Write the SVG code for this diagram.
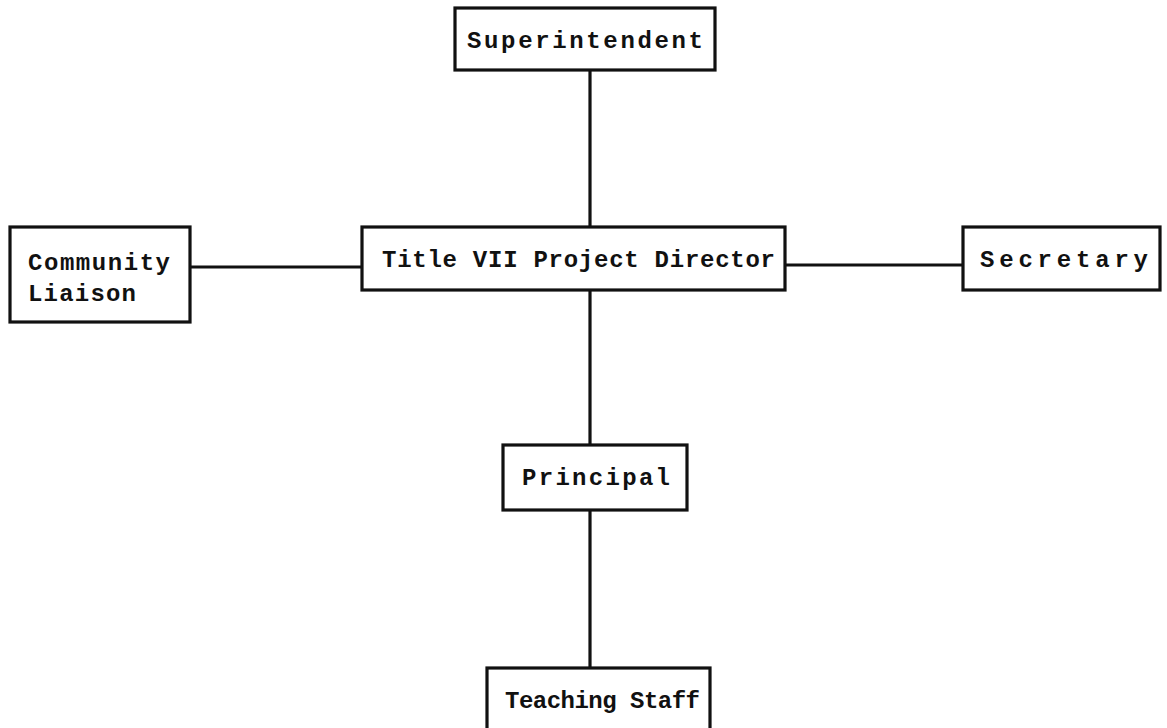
<svg xmlns="http://www.w3.org/2000/svg" width="1167" height="728" viewBox="0 0 1167 728">
  <style>
    .box { fill: #ffffff; stroke: #111111; stroke-width: 3.2; }
    .link { stroke: #111111; stroke-width: 3.2; fill: none; }
    .label { font-family: "Liberation Mono", "Courier New", monospace; font-size: 24px; font-weight: bold; fill: #111111; }
  </style>
  <rect width="1167" height="728" fill="#ffffff"/>

  <!-- reporting lines -->
  <g id="connectors">
    <line class="link" x1="590" y1="70" x2="590" y2="227"/>
    <line class="link" x1="190" y1="267" x2="362" y2="267"/>
    <line class="link" x1="785" y1="265" x2="963" y2="265"/>
    <line class="link" x1="590" y1="290" x2="590" y2="445"/>
    <line class="link" x1="590" y1="510" x2="590" y2="668"/>
  </g>

  <g id="superintendent">
    <rect class="box" x="455" y="8" width="260" height="62"/>
    <text class="label" x="467" y="48" textLength="236" lengthAdjust="spacing">Superintendent</text>
  </g>

  <g id="community-liaison">
    <rect class="box" x="10" y="227" width="180" height="95"/>
    <text class="label" x="28" y="270" textLength="142" lengthAdjust="spacing">Community</text>
    <text class="label" x="28" y="301" textLength="108" lengthAdjust="spacing">Liaison</text>
  </g>

  <g id="project-director">
    <rect class="box" x="362" y="227" width="423" height="63"/>
    <text class="label" x="382" y="267" textLength="393" lengthAdjust="spacing">Title VII Project Director</text>
  </g>

  <g id="secretary">
    <rect class="box" x="963" y="227" width="197" height="63"/>
    <text class="label" x="980" y="267" textLength="168" lengthAdjust="spacing">Secretary</text>
  </g>

  <g id="principal">
    <rect class="box" x="503" y="445" width="184" height="65"/>
    <text class="label" x="522" y="485" textLength="148" lengthAdjust="spacing">Principal</text>
  </g>

  <g id="teaching-staff">
    <rect class="box" x="487" y="668" width="223" height="66"/>
    <text class="label" x="505" y="708" textLength="195" lengthAdjust="spacing">Teaching Staff</text>
  </g>
</svg>
